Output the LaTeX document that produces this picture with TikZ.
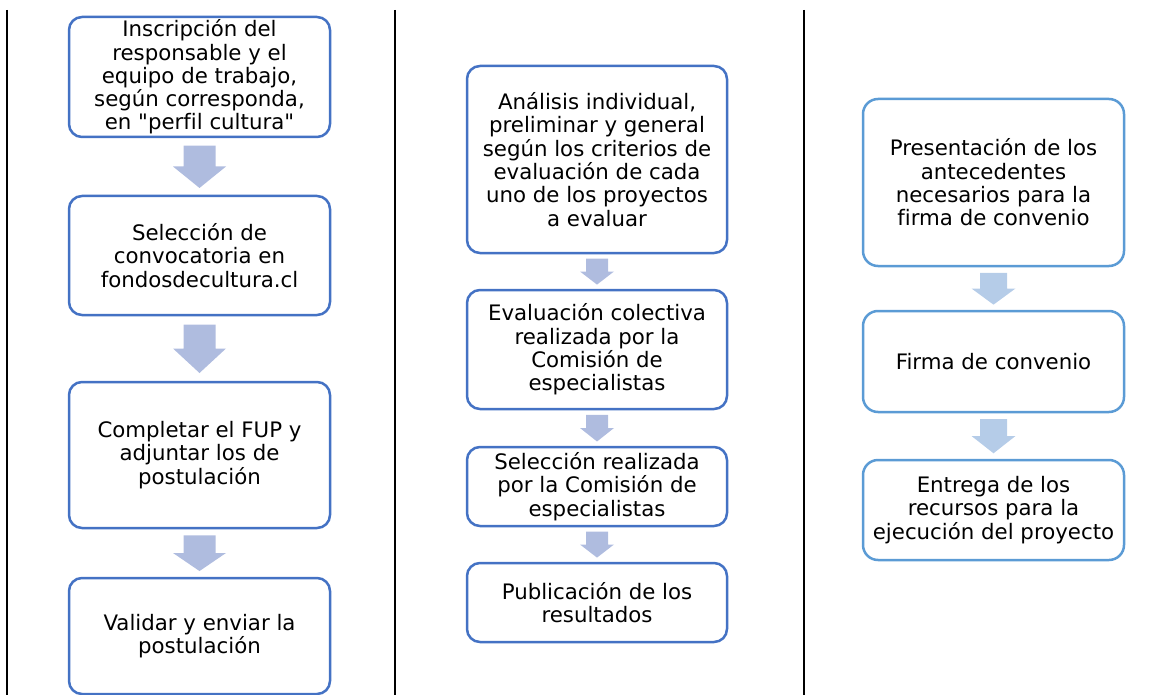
\documentclass[tikz,border=0pt]{standalone}
\usepackage{fontspec}
\newfontfamily\verd{DejaVu Sans}[Ligatures=NoCommon]
\usetikzlibrary{calc}
\definecolor{boxblue}{HTML}{4472C4}
\definecolor{boxlight}{HTML}{5B9BD5}
\definecolor{arrblue}{HTML}{AFBCDF}
\definecolor{arrlight}{HTML}{B5CCE8}
\tikzset{
  stepbox/.style={draw=boxblue, line width=2.5pt, rounded corners=13pt, fill=white,
    align=center, inner sep=0pt, font=\verd\fontsize{21.3}{23.3}\selectfont},
  stepboxlight/.style={stepbox, draw=boxlight, rounded corners=15pt},
  sepline/.style={line width=2pt, black},
  arrfill/.style={fill=arrblue, draw=none},
  arrfilllight/.style={fill=arrlight, draw=none}
}
% block arrow from node #1 to node #2, style #3, half shaft #4, half head #5
\newcommand\blockarr[5]{%
  \path[#3] let \p1=(#1.south), \p2=(#2.north) in
    (\x1-#4, {\y1-0.13*(\y1-\y2)}) -- (\x1+#4, {\y1-0.13*(\y1-\y2)})
    -- (\x1+#4, {\y1-0.5*(\y1-\y2)}) -- (\x1+#5, {\y1-0.5*(\y1-\y2)})
    -- (\x1, {\y2+0.12*(\y1-\y2)})
    -- (\x1-#5, {\y1-0.5*(\y1-\y2)}) -- (\x1-#4, {\y1-0.5*(\y1-\y2)}) -- cycle;}
\begin{document}
\begin{tikzpicture}[x=1pt, y=-1pt]
\useasboundingbox (0,0) rectangle (1172,695);
\begin{scope}
\clip (0,0) rectangle (1172,695);
% separator lines
\coordinate (l1t) at (7,10);   \coordinate (l1b) at (7,695);
\coordinate (l2t) at (395,10); \coordinate (l2b) at (395,695);
\coordinate (l3t) at (804,10); \coordinate (l3b) at (804,695);
\draw[sepline] (l1t) -- (l1b);
\draw[sepline] (l2t) -- (l2b);
\draw[sepline] (l3t) -- (l3b);
% column 1
\node[stepbox, minimum width=261pt, minimum height=120pt] (a1) at (199.5,77)
  {Inscripción del\\responsable y el\\equipo de trabajo,\\según corresponda,\\en "perfil cultura"};
\node[stepbox, minimum width=261pt, minimum height=119pt] (a2) at (199.5,255.5)
  {Selección de\\convocatoria en\\fondosdecultura.cl};
\node[stepbox, minimum width=261pt, minimum height=146pt] (a3) at (199.5,455)
  {Completar el FUP y\\adjuntar los de\\postulación};
\node[stepbox, minimum width=261pt, minimum height=116pt] (a4) at (199.5,636)
  {Validar y enviar la\\postulación};
% column 2
\node[stepbox, minimum width=260pt, minimum height=187pt] (b1) at (597,159.5)
  {Análisis individual,\\preliminar y general\\según los criterios de\\evaluación de cada\\uno de los proyectos\\a evaluar};
\node[stepbox, minimum width=260pt, minimum height=119pt] (b2) at (597,349.5)
  {Evaluación colectiva\\realizada por la\\Comisión de\\especialistas};
\node[stepbox, minimum width=260pt, minimum height=79pt] (b3) at (597,486.5)
  {Selección realizada\\por la Comisión de\\especialistas};
\node[stepbox, minimum width=260pt, minimum height=79pt] (b4) at (597,602.5)
  {Publicación de los\\resultados};
% column 3
\node[stepboxlight, minimum width=261pt, minimum height=167pt] (c1) at (993.5,182.5)
  {Presentación de los\\antecedentes\\necesarios para la\\firma de convenio};
\node[stepboxlight, minimum width=261pt, minimum height=101pt] (c2) at (993.5,361.5)
  {Firma de convenio};
\node[stepboxlight, minimum width=261pt, minimum height=100pt] (c3) at (993.5,510)
  {Entrega de los\\recursos para la\\ejecución del proyecto};
\end{scope}
% arrows
\blockarr{a1}{a2}{arrfill}{16pt}{26.5pt}
\blockarr{a2}{a3}{arrfill}{16pt}{26.5pt}
\blockarr{a3}{a4}{arrfill}{16pt}{26.5pt}
\blockarr{b1}{b2}{arrfill}{11pt}{17pt}
\blockarr{b2}{b3}{arrfill}{11pt}{17pt}
\blockarr{b3}{b4}{arrfill}{11pt}{17pt}
\blockarr{c1}{c2}{arrfilllight}{13.5pt}{22pt}
\blockarr{c2}{c3}{arrfilllight}{13.5pt}{22pt}
\end{tikzpicture}
\end{document}
